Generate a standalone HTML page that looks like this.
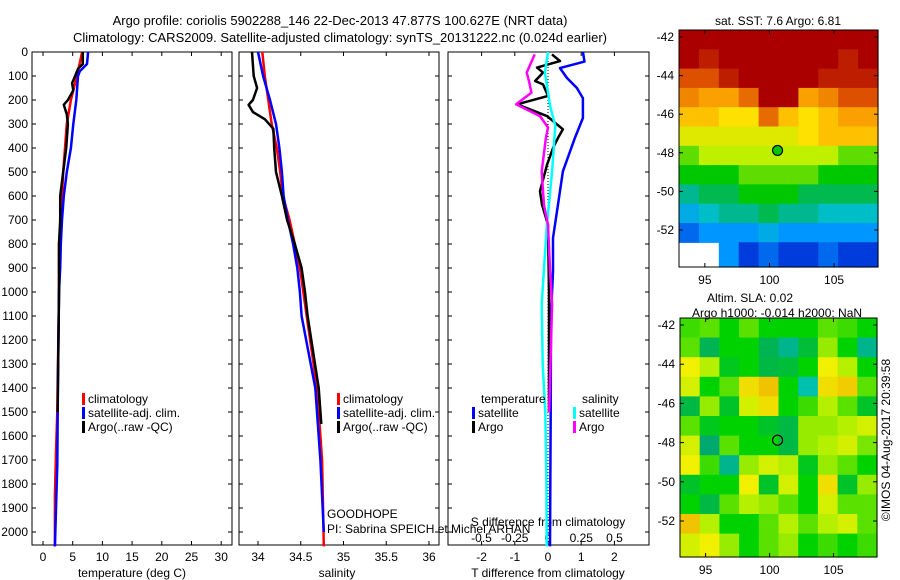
<!DOCTYPE html>
<html><head><meta charset="utf-8">
<style>
html,body{margin:0;padding:0;background:#fff;}
svg{display:block;font-family:"Liberation Sans",sans-serif;}
text{font-size:12px;fill:#000;}
</style></head>
<body>
<svg id="fig" width="900" height="580" viewBox="0 0 900 580" xmlns="http://www.w3.org/2000/svg">
<rect width="900" height="580" fill="#fff"/>
<text x="340" y="25" text-anchor="middle" style="font-size:13px">Argo profile: coriolis 5902288_146 22-Dec-2013 47.877S 100.627E (NRT data)</text>
<text x="340" y="42" text-anchor="middle" style="font-size:13px">Climatology: CARS2009. Satellite-adjusted climatology: synTS_20131222.nc (0.024d earlier)</text>
<g id="g"></g>
</svg>
<script>
// ---------- data ----------
const depthTicks=[0,100,200,300,400,500,600,700,800,900,1000,1100,1200,1300,1400,1500,1600,1700,1800,1900,2000];
const tempTicks=[0,5,10,15,20,25,30];
const salTicks=[34,34.5,35,35.5,36];
const tdiffTicks=[-2,-1,0,1,2];
const sdiffTicks=[-0.5,-0.25,0,0.25,0.5];
const tdiffTickLabels=["-2","-1","0","1","2"];
const sdiffTickLabels=["-0.5","-0.25","0","0.25","0.5"];

const tClimDepth=[0,100,200,300,400,500,600,700,800,1000,1500,1650,1850,2060];
const tClim=[6.6,5.7,4.7,4.0,3.7,3.4,3.2,3.0,2.7,2.7,2.4,2.2,2.0,2.0];
const tSatDepth=[0,50,80,100,200,300,400,500,600,700,800,900,1000,1400,1720,2060];
const tSat=[7.6,7.4,6.2,5.9,5.6,5.1,4.7,4.0,3.5,3.2,3.0,2.9,2.7,2.5,2.4,2.0];
const tArgoDepth=[0,50,70,100,130,160,200,220,260,300,400,500,600,700,800,1000,1500];
const tArgo=[6.7,6.7,5.9,5.4,4.9,5.1,4.2,3.5,4.0,4.2,3.9,3.4,2.9,2.9,2.7,2.7,2.45];

const sClimDepth=[0,100,200,300,400,500,600,700,800,900,1000,1100,1400,1500,1700,2060];
const sClim=[34.05,34.08,34.12,34.16,34.22,34.26,34.29,34.37,34.43,34.49,34.53,34.57,34.69,34.71,34.75,34.77];
const sSatDepth=[0,100,200,300,400,500,600,700,800,900,1000,1100,1400,1700,2000];
const sSat=[34.0,34.06,34.14,34.21,34.25,34.28,34.30,34.35,34.41,34.46,34.49,34.51,34.67,34.73,34.77];
const sArgoDepth=[0,100,150,200,220,250,280,320,400,500,600,700,800,900,1000,1100,1400,1550];
const sArgo=[33.93,33.95,33.99,33.94,33.89,33.94,34.08,34.18,34.19,34.21,34.28,34.34,34.43,34.51,34.55,34.58,34.71,34.74];

const dTSatDepth=[0,40,67,108,150,192,275,358,497,636,775,914,1100,1500,2060];
const dTSat=[1.05,1.1,0.36,0.57,0.87,1.05,1.05,0.81,0.45,0.3,0.15,0.15,0.09,0.08,0.06];
const dTArgoDepth=[10,38,65,86,121,135,183,218,267,322,358,400,470,580,636,720,1000,1500];
const dTArgo=[0.12,0.36,-0.33,-0.15,-0.39,-0.15,0,-0.93,-0.03,0.45,0.30,0.15,-0.03,-0.24,-0.18,0,0.03,0.03];
const dSSatDepth=[0,86,225,308,497,720,1050,1300,1500,1800,2060];
const dSSat=[0,-0.023,0.016,0.055,0.031,-0.008,-0.047,-0.04,-0.02,-0.012,-0.01];
const dSArgoDepth=[10,86,128,170,218,267,315,358,497,636,720,914,1050,1500];
const dSArgo=[-0.10,-0.16,-0.14,-0.125,-0.24,-0.06,0,-0.016,-0.047,-0.031,0,0.016,0.031,0.008];

const sstGrid=[
[12,12,12,12,12,12,12,12,12,12],
[12,11.5,12,12,12,12,12,12,11.5,12],
[11,11,11.5,12,12,12,12,11.5,11.5,11.5],
[10,9.5,9.5,10.5,12,12,9.5,10,11,11],
[9,9,8.5,8.5,10.5,9,8.5,9,9.5,9.5],
[8,8,8,8,8,8,8.5,9,9,9],
[7,7.5,7.5,7.5,7.5,7.5,7.5,7.5,7,7],
[6.5,6.5,6.5,7,7,7,7,6.5,6.5,6.5],
[5.5,6,6,6.5,6.5,6.5,6,6,6,6],
[4.5,5,5.5,5.5,6,5.5,5.5,5,5,5],
[3.5,4,4,4,4.5,4,4,4,4,4],
[null,null,4,3,3.5,3,3,3.5,3,3]];
const slaGrid=[
[0.02,0.03,0,0.03,0,0,0,0.03,0.02,0],
[0.03,-0.06,0,0,-0.06,-0.1,-0.04,0.05,0,-0.1],
[0.1,0.06,-0.02,0,-0.05,-0.04,0,0.1,0.06,0],
[0.08,0,0.03,0.12,0.15,0,-0.12,0.12,0.14,0.03],
[-0.05,0.05,-0.03,0.08,0.12,0,0.02,0.06,0.03,-0.03],
[0.03,-0.02,0,0,-0.03,-0.05,0.05,0.05,0.06,0.08],
[0.08,-0.08,0.03,0,0,-0.05,0.05,0.06,0.08,0.04],
[0.1,0.02,-0.1,0.05,0.08,0.06,-0.02,0.05,0.03,0],
[-0.03,0,0,0.1,-0.03,0.08,0,0.12,-0.03,0.05],
[0,-0.05,0.03,0.06,0.05,0.03,0,0.08,0.03,0.03],
[0.15,0.06,0,0,0.03,0.06,0.03,0.06,0.08,0.03],
[0.08,0.1,0.05,0,0.03,0.05,0,0.02,0,0.02]];
const latTicks=[-42,-44,-46,-48,-50,-52];
const lonTicks=[95,100,105];
const argoLon=100.627, argoLat=-47.877;

// ---------- helpers ----------
const NS="http://www.w3.org/2000/svg";
const G=document.getElementById('g');
function mk(tag,attrs,parent){const e=document.createElementNS(NS,tag);for(const k in attrs)e.setAttribute(k,attrs[k]);(parent||G).appendChild(e);return e;}
function txt(x,y,s,anchor,name,extra){const e=mk('text',Object.assign({x:x,y:y,'text-anchor':anchor||'start'},extra||{}));e.textContent=s;


return e;}

const PT=52, PB=545;
const yD=d=>PT+d*0.24;
const panels=[{x0:32,x1:232,name:'temperature-panel'},{x0:239,x1:439,name:'salinity-panel'},{x0:448,x1:649,name:'difference-panel'}];
const xT=t=>43+t*5.94;
const xS=s=>258+(s-34)*85.5;
const xDT=t=>548+t*33.2;
const xDS=s=>548+s*133;

panels.forEach(p=>{
  const r=mk('rect',{x:p.x0,y:PT,width:p.x1-p.x0,height:PB-PT,fill:'none',stroke:'#000','stroke-width':1});
  
  
  depthTicks.forEach(d=>{
    mk('line',{x1:p.x0,x2:p.x0+4,y1:yD(d),y2:yD(d),stroke:'#000'});
    mk('line',{x1:p.x1,x2:p.x1-4,y1:yD(d),y2:yD(d),stroke:'#000'});
  });
});
depthTicks.forEach(d=>txt(28,yD(d)+4,String(d),'end','depth-tick-label'));

function xticks(vals,labels,fx,ylab){vals.forEach((v,i)=>{const x=fx(v);
 mk('line',{x1:x,x2:x,y1:PT,y2:PT+4,stroke:'#000'});mk('line',{x1:x,x2:x,y1:PB,y2:PB-4,stroke:'#000'});
 txt(x,ylab,labels[i],'middle','x-tick-label');});}
xticks(tempTicks,tempTicks.map(String),xT,561);
xticks(salTicks,salTicks.map(String),xS,561);
xticks(tdiffTicks,tdiffTickLabels,xDT,561);
sdiffTicks.forEach((v,i)=>txt(xDS(v),542,sdiffTickLabels[i],'middle','s-diff-tick-label'));
txt(132,577,'temperature (deg C)','middle','temperature-axis-title');
txt(337,577,'salinity','middle','salinity-axis-title');
txt(548,577,'T difference from climatology','middle','t-difference-axis-title');
txt(548,526,'S difference from climatology','middle','s-difference-axis-title');

mk('line',{x1:xDT(0),x2:xDT(0),y1:PT,y2:PB,stroke:'#000','stroke-dasharray':'1,2'});

function series(depths,vals,fx,color,w,name){
  const pts=depths.map((d,i)=>fx(vals[i]).toFixed(1)+','+yD(d).toFixed(1)).join(' ');
  const e=mk('polyline',{points:pts,fill:'none',stroke:color,'stroke-width':w,'stroke-linejoin':'round'});
  
  
}
series(tClimDepth,tClim,xT,'#f00',2.5,'temperature-climatology-line');
series(tSatDepth,tSat,xT,'#00f',2.5,'temperature-satellite-line');
series(tArgoDepth,tArgo,xT,'#000',2.5,'temperature-argo-line');
series(sClimDepth,sClim,xS,'#f00',2.5,'salinity-climatology-line');
series(sSatDepth,sSat,xS,'#00f',2.5,'salinity-satellite-line');
series(sArgoDepth,sArgo,xS,'#000',2.5,'salinity-argo-line');
series(dTSatDepth,dTSat,xDT,'#00f',2.5,'t-diff-satellite-line');
series(dTArgoDepth,dTArgo,xDT,'#000',2.5,'t-diff-argo-line');
series(dSSatDepth,dSSat,xDS,'#0ff',2.5,'s-diff-satellite-line');
series(dSArgoDepth,dSArgo,xDS,'#f0f',2.5,'s-diff-argo-line');

function legend(x,y,color,label,name){const b=mk('rect',{x:x,y:y-10,width:3,height:12,fill:color});
 
 
 txt(x+6,y,label,'start',name);}
legend(82,403,'#f00','climatology','legend-climatology');
legend(82,417,'#00f','satellite-adj. clim.','legend-satellite');
legend(82,431,'#000','Argo(..raw -QC)','legend-argo');
legend(337,403,'#f00','climatology','legend-sal-climatology');
legend(337,417,'#00f','satellite-adj. clim.','legend-sal-satellite');
legend(337,431,'#000','Argo(..raw -QC)','legend-sal-argo');
txt(481,403,'temperature','start','legend-temperature-heading');
txt(582,403,'salinity','start','legend-salinity-heading');
legend(472,417,'#00f','satellite','legend-t-satellite');
legend(472,431,'#000','Argo','legend-t-argo');
legend(573,417,'#0ff','satellite','legend-s-satellite');
legend(573,431,'#f0f','Argo','legend-s-argo');
txt(327,518,'GOODHOPE','start','project-label');
txt(327,533,'PI: Sabrina SPEICH et Michel ARHAN','start','pi-label');

// ---------- maps ----------
function interpC(stops,v){
 if(v<=stops[0][0])return 'rgb('+stops[0][1].join(',')+')';
 for(let i=1;i<stops.length;i++){if(v<=stops[i][0]){const a=stops[i-1],b=stops[i],f=(v-a[0])/(b[0]-a[0]);
 return 'rgb('+a[1].map((c,k)=>Math.round(c+(b[1][k]-c)*f)).join(',')+')';}}
 return 'rgb('+stops[stops.length-1][1].join(',')+')';}
const sstStops=[[2,[0,0,150]],[3,[0,60,220]],[4,[0,150,255]],[5,[0,190,200]],[5.8,[0,180,110]],[6.5,[0,200,0]],[7.5,[190,240,0]],[8.5,[255,225,0]],[9.5,[250,160,0]],[11,[220,80,0]],[11.8,[170,0,0]]];
const slaStops=[[-0.15,[0,210,220]],[-0.08,[0,170,110]],[0,[0,210,0]],[0.06,[180,240,0]],[0.1,[240,240,0]],[0.2,[240,150,0]]];

function map(x0,x1,y0,lat42y,lat52y,y1,grid,stops,name){
  const lonL=93.0,lonR=108.4;
  const fx=lon=>x0+(lon-lonL)/(lonR-lonL)*(x1-x0);
  const s=(lat52y-lat42y)/10;
  const fy=lat=>lat42y+(-42-lat)*s;
  const latTop=-42+(lat42y-y0)/s;
  const g=mk('g',{});
  
  
  const rows=grid.length, cols=grid[0].length;
  const cw=(x1-x0)/cols;
  grid.forEach((row,ri)=>row.forEach((v,ci)=>{
    if(v===null)return;
    const top=fy(latTop-ri), bot=(ri===rows-1)?y1:fy(latTop-ri-1);
    const c=mk('rect',{x:(x0+ci*cw).toFixed(1),y:top.toFixed(1),width:(cw+0.6).toFixed(1),height:(bot-top+0.6).toFixed(1),fill:interpC(stops,v)},g);
    
    
  }));
  const fr=mk('rect',{x:x0,y:y0,width:x1-x0,height:y1-y0,fill:'none',stroke:'#000'});
  
  
  latTicks.forEach(l=>{const y=fy(l);mk('line',{x1:x0,x2:x0+4,y1:y,y2:y,stroke:'#000'});mk('line',{x1:x1,x2:x1-4,y1:y,y2:y,stroke:'#000'});
    txt(x0-5,y+4,String(l),'end','latitude-tick-label');});
  lonTicks.forEach(l=>{const x=fx(l);mk('line',{x1:x,x2:x,y1:y1,y2:y1-4,stroke:'#000'});mk('line',{x1:x,x2:x,y1:y0,y2:y0+4,stroke:'#000'});
    txt(x,y1+17,String(l),'middle','longitude-tick-label');});
  const m=mk('circle',{cx:fx(argoLon),cy:fy(argoLat),r:5,fill:name==='sst-map'?'#00c800':'none',stroke:'#000','stroke-width':1.2});
  
  
}
map(679,878,30,37,230,267,sstGrid,sstStops,'sst-map');
map(680,877,318,325,521,557,slaGrid,slaStops,'sla-map');
txt(778,25,'sat. SST: 7.6 Argo: 6.81','middle','sst-map-title');
txt(750,302,'Altim. SLA: 0.02','middle','sla-value-label');
txt(777,317,'Argo h1000: -0.014 h2000: NaN','middle','argo-height-label');
txt(0,0,'©IMOS 04-Aug-2017 20:39:58','middle','copyright-label',{transform:'translate(890,440) rotate(-90)'});
</script>
</body></html>
